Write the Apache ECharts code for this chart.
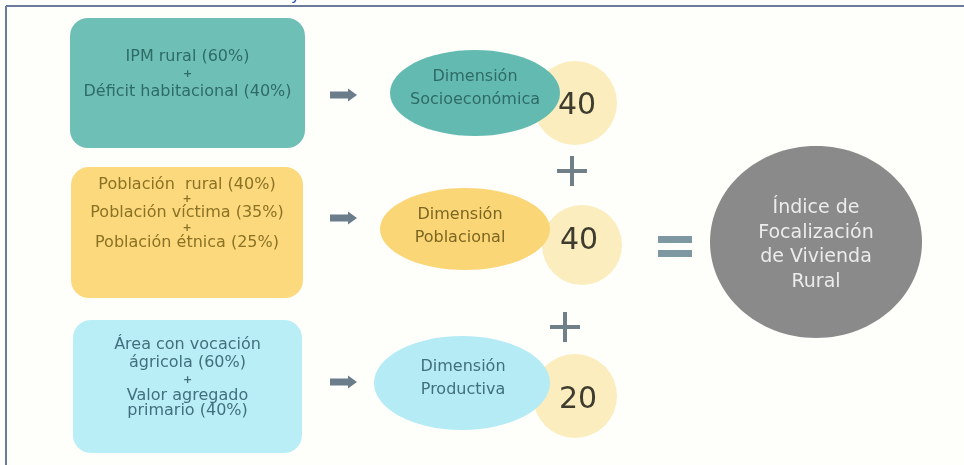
<!DOCTYPE html>
<html><head><meta charset="utf-8">
<script src="https://cdn.jsdelivr.net/npm/echarts@6/dist/echarts.min.js"></script>
<style>html,body{margin:0;padding:0;background:#fefefb}#c{width:964px;height:465px}</style>
</head><body><div id="c"></div>
<script>
// ---- content (data) ----
const inputLines = [
  ['IPM rural (60%)', '+', 'Déficit habitacional (40%)'],
  ['Población  rural (40%)', '+', 'Población víctima (35%)', '+', 'Población étnica (25%)'],
  ['Área con vocación', 'ágricola (60%)', '+', 'Valor agregado', 'primario (40%)']
];
const dimensions = ['Dimensión\nSocioeconómica', 'Dimensión\nPoblacional', 'Dimensión\nProductiva'];
const weights = [40, 40, 20];
const resultLabel = 'Índice de\nFocalización\nde Vivienda\nRural';
const joints = ['+', '+'];

// ---- styles ----
const FONT = '"DejaVu Sans", "Liberation Sans", sans-serif';
const rowStyle = [
  { box: '#6ec0b7', text: '#2f6b66', ell: '#63bab0', ellText: '#2f6b66' },
  { box: '#fcd97d', text: '#8a7224', ell: '#fbd677', ellText: '#7b6622' },
  { box: '#b9eef7', text: '#41707c', ell: '#b4ebf5', ellText: '#41707c' }
];
const weightFill = '#fbedbd', weightText = '#3e3c2e';
const arrowColor = '#6b7d8b', plusColor = '#6f8088', equalsColor = '#7d98a0';
const resultFill = '#8a8a8a', resultText = '#ececec';

// ---- layout (pixel units on hidden 1:1 axes) ----
const rowLayout = [
  { box: [70, 18, 235, 130], lines: [57, 74, 92], arrowY: 95,
    ell: [475, 93, 85, 43], ellTextY: 88, ellTextX: 475, circ: [575, 103, 42], num: [577, 106] },
  { box: [71, 167, 232, 131], lines: [185, 199, 213, 228, 243], arrowY: 218,
    ell: [465, 229, 85, 41], ellTextY: 226, ellTextX: 460, circ: [582, 245, 40], num: [579, 241] },
  { box: [73, 320, 229, 133], lines: [345, 363, 380, 396, 411], arrowY: 382,
    ell: [462, 383, 88, 47], ellTextY: 378, ellTextX: 463, circ: [575, 396, 42], num: [578, 400] }
];
const jointLayout = [[572, 171], [565, 327]];

const chart = echarts.init(document.getElementById('c'), null, { renderer: 'canvas' });

function rowRender(params, api) {
  const i = params.dataIndex;
  const L = rowLayout[i], st = rowStyle[i];
  const P = (x, y) => api.coord([x, y]);
  const S = (w, h) => api.size([w, h]);
  const children = [];
  const b0 = P(L.box[0], L.box[1]); const bs = S(L.box[2], L.box[3]);
  children.push({ type: 'rect', shape: { x: b0[0], y: b0[1], width: bs[0], height: bs[1], r: 18 },
    style: { fill: st.box } });
  const cx = b0[0] + bs[0] / 2;
  inputLines[i].forEach((t, k) => {
    const p = P(0, L.lines[k]);
    const isPlus = t === '+';
    children.push({ type: 'text', style: { text: t, x: cx, y: p[1], align: 'center', verticalAlign: 'middle',
      font: (isPlus ? 'bold 11px ' : '16px ') + FONT, fill: st.text } });
  });
  // arrow
  const ay = P(0, L.arrowY)[1];
  const ax0 = P(330, 0)[0], ax1 = P(348, 0)[0], ax2 = P(357, 0)[0];
  children.push({ type: 'polygon', shape: { points: [[ax0, ay - 3.5], [ax1, ay - 3.5], [ax1, ay - 6.5], [ax2, ay], [ax1, ay + 6.5], [ax1, ay + 3.5], [ax0, ay + 3.5]] },
    style: { fill: arrowColor } });
  // weight circle
  const c = P(L.circ[0], L.circ[1]); const cr = S(L.circ[2], L.circ[2])[0];
  children.push({ type: 'circle', shape: { cx: c[0], cy: c[1], r: cr }, style: { fill: weightFill } });
  // ellipse
  const e = P(L.ell[0], L.ell[1]); const es = S(L.ell[2], L.ell[3]);
  children.push({ type: 'ellipse', shape: { cx: e[0], cy: e[1], rx: es[0], ry: es[1] }, style: { fill: st.ell } });
  const et = P(L.ellTextX, L.ellTextY);
  children.push({ type: 'text', style: { text: dimensions[i], x: et[0], y: et[1], align: 'center', verticalAlign: 'middle',
    font: '16px ' + FONT, lineHeight: 23, fill: st.ellText } });
  const n = P(L.num[0], L.num[1]);
  children.push({ type: 'text', style: { text: String(api.value(1)), x: n[0], y: n[1], align: 'center', verticalAlign: 'middle',
    font: '30px ' + FONT, fill: weightText } });
  return { type: 'group', children };
}

function jointRender(params, api) {
  const p = api.coord(jointLayout[params.dataIndex]);
  const s = api.size([30, 30]);
  return { type: 'group', children: [
    { type: 'rect', shape: { x: p[0] - s[0] / 2, y: p[1] - 2, width: s[0], height: 4 }, style: { fill: plusColor } },
    { type: 'rect', shape: { x: p[0] - 2, y: p[1] - s[1] / 2, width: 4, height: s[1] }, style: { fill: plusColor } }
  ] };
}

function resultRender(params, api) {
  const P = (x, y) => api.coord([x, y]);
  const e1 = P(658, 236), e2 = P(658, 250), es = api.size([34, 7]);
  const c = P(816, 242), r = api.size([106, 96]);
  const t = P(816, 245);
  return { type: 'group', children: [
    { type: 'rect', shape: { x: e1[0], y: e1[1], width: es[0], height: es[1] }, style: { fill: equalsColor } },
    { type: 'rect', shape: { x: e2[0], y: e2[1], width: es[0], height: es[1] }, style: { fill: equalsColor } },
    { type: 'ellipse', shape: { cx: c[0], cy: c[1], rx: r[0], ry: r[1] }, style: { fill: resultFill } },
    { type: 'text', style: { text: resultLabel, x: t[0], y: t[1], align: 'center', verticalAlign: 'middle',
      font: '19px ' + FONT, lineHeight: 24.5, fill: resultText } }
  ] };
}

chart.setOption({
  backgroundColor: '#fefefb',
  animation: false,
  grid: { left: 0, right: 0, top: 0, bottom: 0 },
  xAxis: { type: 'value', min: 0, max: 964, show: false },
  yAxis: { type: 'value', min: 0, max: 465, inverse: true, show: false },
  graphic: [
    { type: 'line', shape: { x1: 6, y1: 6, x2: 964, y2: 6 }, style: { stroke: '#6c7b9c', lineWidth: 2 } },
    { type: 'line', shape: { x1: 6, y1: 6, x2: 6, y2: 465 }, style: { stroke: '#6c7b9c', lineWidth: 2 } },
    { type: 'text', style: { text: 'y', x: 291, y: -12, font: '16px ' + FONT, fill: '#2a55b5' } }
  ],
  series: [
    { type: 'custom', renderItem: rowRender, data: weights.map((w, i) => [i, w]), clip: false },
    { type: 'custom', renderItem: jointRender, data: joints.map((j, i) => [i, 0]), clip: false },
    { type: 'custom', renderItem: resultRender, data: [[0, 0]], clip: false }
  ]
});
</script></body></html>
